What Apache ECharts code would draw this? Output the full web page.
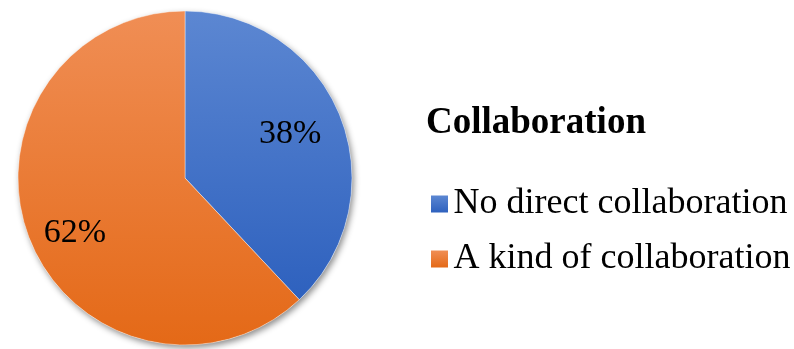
<!DOCTYPE html>
<html>
<head>
<meta charset="utf-8">
<script src="https://cdn.jsdelivr.net/npm/echarts@6/dist/echarts.min.js"></script>
<style>
  html, body { margin: 0; padding: 0; background: #fff; }
  #chart { width: 794px; height: 349px; }
</style>
</head>
<body>
<div id="chart"></div>
<script>
// Share of respondents by collaboration type
const categories = ['No direct collaboration', 'A kind of collaboration'];
const shares = [38, 62];
const legendTitle = 'Collaboration';

const serif = '"Liberation Serif", "Times New Roman", serif';
const fills = [
  { top: '#5C87D2', bottom: '#2E61BE' },
  { top: '#F08E55', bottom: '#E46917' }
];
// small nudges for the percentage labels inside each slice
const labelNudge = [[-5, 0], [0, 11]];

function grad(c) {
  return new echarts.graphic.LinearGradient(0, 0, 0, 1, [
    { offset: 0, color: c.top },
    { offset: 1, color: c.bottom }
  ]);
}

const pieData = categories.map((name, i) => ({
  name: name,
  value: shares[i],
  itemStyle: { color: grad(fills[i]) }
}));

const center = [185, 178];
const R = 167;

const chart = echarts.init(document.getElementById('chart'), null, { renderer: 'canvas' });
chart.setOption({
  animation: false,
  title: {
    text: legendTitle,
    left: 421,
    top: 100,
    textStyle: { fontFamily: serif, fontWeight: 'bold', fontSize: 37, color: '#000' }
  },
  legend: {
    orient: 'vertical',
    left: 426,
    top: 181,
    itemWidth: 18,
    itemHeight: 17,
    itemGap: 19,
    icon: 'path://M0,0H10V10H0Z',
    itemStyle: { borderWidth: 0 },
    data: categories,
    textStyle: { fontFamily: serif, fontSize: 36, lineHeight: 36, color: '#000' }
  },
  series: [
    {
      // drop shadow behind the whole disc
      type: 'pie',
      silent: true,
      z: 1,
      center: center,
      radius: [0, R],
      label: { show: false },
      labelLine: { show: false },
      legendHoverLink: false,
      data: [{ value: 1, name: '', itemStyle: { color: '#fff', shadowBlur: 6, shadowOffsetX: 2, shadowOffsetY: 3, shadowColor: 'rgba(0,0,0,0.45)' } }]
    },
    {
      type: 'pie',
      z: 2,
      center: center,
      radius: [0, R],
      startAngle: 90,
      clockwise: true,
      label: { show: false },
      labelLine: { show: false },
      itemStyle: { borderColor: 'rgba(255,255,255,0.5)', borderWidth: 0.8 },
      data: pieData
    },
    {
      // percentage labels, placed inside the slices
      type: 'pie',
      z: 3,
      silent: true,
      center: center,
      radius: [64, R],
      startAngle: 90,
      clockwise: true,
      legendHoverLink: false,
      itemStyle: { color: 'rgba(0,0,0,0)' },
      label: {
        show: true,
        position: 'inside',
        formatter: '{c}%',
        fontFamily: serif,
        fontSize: 34,
        color: '#000'
      },
      labelLine: { show: false },
      data: categories.map((name, i) => ({
        name: name,
        value: shares[i],
        label: { offset: labelNudge[i] }
      }))
    }
  ]
});
</script>
</body>
</html>
